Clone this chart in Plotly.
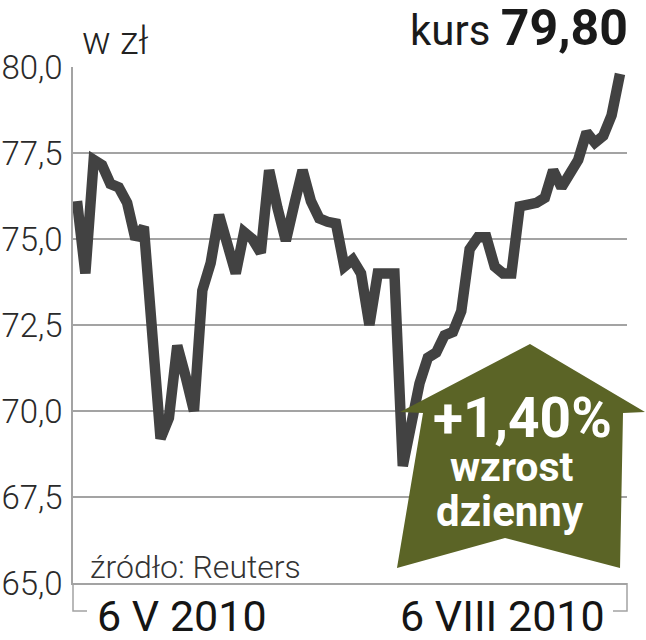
"""Kurs akcji - wykres liniowy z etykietą wzrostu dziennego."""

import plotly.graph_objects as go

# notowania dzienne od 6 V 2010 do 6 VIII 2010 (w zł)
session = list(range(66))
price = [
    76.1, 74.0, 77.3, 77.15, 76.6, 76.5, 76.05, 75.0, 75.35, 72.3,
    69.2, 69.8, 71.9, 71.0, 70.0, 73.5, 74.3, 75.7, 74.9, 74.0,
    75.2, 75.0, 74.6, 77.0, 75.9, 74.95, 76.0, 77.0, 76.1, 75.6,
    75.5, 75.45, 74.2, 74.4, 74.0, 72.5, 74.0, 74.0, 74.0, 68.4,
    69.8, 70.8, 71.55, 71.7, 72.2, 72.3, 72.9, 74.7, 75.05, 75.05,
    74.2, 74.0, 74.0, 75.95, 76.0, 76.05, 76.2, 77.0, 76.5, 76.9,
    77.3, 78.1, 77.8, 78.0, 78.6, 79.8,
]
y_ticks = [65.0, 67.5, 70.0, 72.5, 75.0, 77.5, 80.0]
date_labels = ["6 V 2010", "6 VIII 2010"]
last_price = "79,80"
daily_change = "+1,40%"

W, H = 646, 640
L, R, T, B = 73, 19, 67, 57
PW, PH = W - L - R, H - T - B


def px(x):
    return (x - L) / PW


def py(y):
    return (H - B - y) / PH


GRID = "#a3a3a3"
OLIVE = "#5b6426"
FONT = "Roboto, sans-serif"

fig = go.Figure()
fig.add_trace(go.Scatter(
    x=session,
    y=price,
    mode="lines",
    line={"color": "#424242", "width": 10.5},
    hoverinfo="skip",
))

arrow = [(400, 412), (530, 344), (645, 412), (623, 413), (620, 568),
         (505, 538), (397, 568), (423, 413)]
path = "M " + " L ".join(f"{px(a):.4f},{py(b):.4f}" for a, b in arrow) + " Z"

shapes = [
    # dolne nawiasy osi czasu
    {"type": "path", "xref": "paper", "yref": "paper",
     "path": f"M {px(73)},{py(583)} L {px(73)},{py(611)} L {px(87)},{py(611)}",
     "line": {"color": GRID, "width": 1.5}},
    {"type": "path", "xref": "paper", "yref": "paper",
     "path": f"M {px(613)},{py(611)} L {px(627)},{py(611)} L {px(627)},{py(583)}",
     "line": {"color": GRID, "width": 1.5}},
    {"type": "path", "xref": "paper", "yref": "paper", "path": path,
     "fillcolor": OLIVE, "line": {"width": 0}, "layer": "above"},
]

annotations = [
    {"text": "w zł", "x": px(80), "y": py(41), "xanchor": "left", "yanchor": "middle",
     "font": {"size": 38, "color": "#222", "family": FONT, "weight": 300}},
    {"text": f"kurs <span style='font-size:50px;font-weight:bold'>{last_price}</span>",
     "x": px(630), "y": py(28), "xanchor": "right", "yanchor": "middle",
     "font": {"size": 42, "color": "#1a1a1a", "family": FONT}},
    {"text": "źródło: Reuters", "x": px(88), "y": py(567), "xanchor": "left", "yanchor": "middle",
     "font": {"size": 32, "color": "#333", "family": FONT, "weight": 300}},
    {"text": date_labels[0], "x": px(182), "y": py(616), "xanchor": "center", "yanchor": "middle",
     "font": {"size": 43, "color": "#151515", "family": FONT, "weight": 400}},
    {"text": date_labels[1], "x": px(502), "y": py(616), "xanchor": "center", "yanchor": "middle",
     "font": {"size": 43, "color": "#151515", "family": FONT, "weight": 400}},
    {"text": f"<b>{daily_change}</b>", "x": px(522), "y": py(418), "xanchor": "center", "yanchor": "middle",
     "font": {"size": 55, "color": "white", "family": FONT}},
    {"text": "<b>wzrost</b>", "x": px(512), "y": py(467), "xanchor": "center", "yanchor": "middle",
     "font": {"size": 41, "color": "white", "family": FONT}},
    {"text": "<b>dzienny</b>", "x": px(510), "y": py(511), "xanchor": "center", "yanchor": "middle",
     "font": {"size": 42, "color": "white", "family": FONT}},
]
for a in annotations:
    a.update({"xref": "paper", "yref": "paper", "showarrow": False})

fig.update_layout(
    width=W,
    height=H,
    margin={"l": L, "r": R, "t": T, "b": B, "autoexpand": False},
    paper_bgcolor="white",
    plot_bgcolor="white",
    showlegend=False,
    separators=", ",
    shapes=shapes,
    annotations=annotations,
)
fig.update_xaxes(
    range=[-0.48, 65.84],
    automargin=False,
    showgrid=False,
    zeroline=False,
    showticklabels=False,
    showline=True,
    linecolor=GRID,
    linewidth=1.5,
)
fig.update_yaxes(
    range=[65, 80],
    automargin=False,
    tickvals=y_ticks,
    tickformat=".1f",
    showgrid=True,
    gridcolor=GRID,
    gridwidth=1.5,
    zeroline=False,
    showline=True,
    linecolor=GRID,
    linewidth=1.5,
    ticks="",
    ticklabelstandoff=2,
    tickfont={"size": 33, "color": "#2a2a2a", "family": FONT, "weight": 300},
)

fig.write_html(
    "out.html",
    config={"displayModeBar": False},
    post_script="document.body.style.margin='0';",
)
